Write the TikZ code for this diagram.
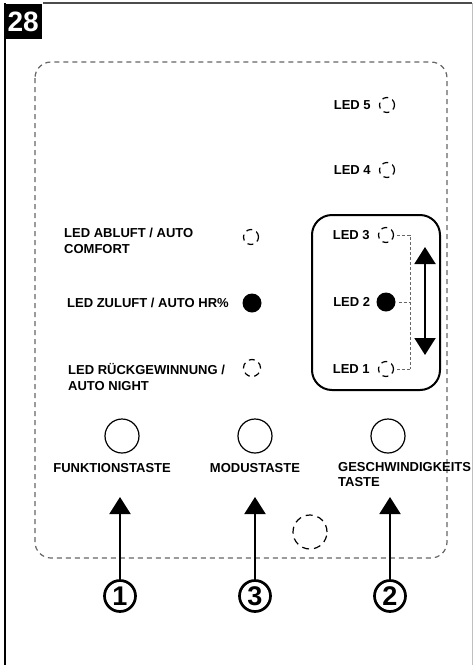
\documentclass[tikz,border=0pt]{standalone}
\usepackage{fontspec}
\setmainfont{Liberation Sans}
\usetikzlibrary{arrows.meta,positioning}

\begin{document}
\begin{tikzpicture}[
    x=1pt, y=-1pt,  % Pixel-Raster, y nach unten
    every node/.style={font=\fontsize{13}{15.5}\selectfont\bfseries, inner sep=0pt},
    panel/.style={draw=black!60, line width=1.2pt, dash pattern=on 5pt off 4pt, rounded corners=16pt},
    ledaus/.style={circle, draw, line width=1.2pt, dash pattern=on 6pt off 4.5pt, minimum size=15pt},
    ledan/.style={circle, fill, minimum size=19pt},
    taste/.style={circle, draw, line width=1.2pt, minimum size=34pt},
    nummer/.style={circle, draw, line width=2.7pt, minimum size=31pt, font=\fontsize{27}{27}\selectfont\bfseries},
    zeiger/.style={line width=2pt, -{Triangle[width=21pt,length=17pt]}},
    verbindung/.style={draw=black!60, line width=0.8pt, dash pattern=on 3pt off 2pt}
]
\useasboundingbox (0,0) rectangle (475,665);
% Rahmen
\draw[black!70, line width=2pt] (43,3) -- (472,3);
\draw[black!25, line width=1pt] (472,3) -- (472,665);
\draw[line width=2pt] (5,3) -- (5,665);
\node[fill=black, text=white, font=\fontsize{28}{28}\selectfont\bfseries,
    minimum width=38pt, minimum height=35pt, anchor=north west] (bild) at (4,4) {28};
% Bedienfeld
\draw[panel] (35,62) rectangle (447,558);
\draw[line width=2pt, rounded corners=20pt] (312,215) rectangle (440,390);

% LEDs rechts
\node[ledaus] (led5) at (387,105) {};
\node[left=8pt of led5] (t5) {LED 5};
\node[ledaus] (led4) at (387,170) {};
\node[left=8pt of led4] (t4) {LED 4};
\node[ledaus] (led3) at (386,235) {};
\node[left=8pt of led3] (t3) {LED 3};
\node[ledan] (led2) at (386,302) {};
\node[left=6pt of led2] (t2) {LED 2};
\node[ledaus] (led1) at (386,369) {};
\node[left=8pt of led1] (t1) {LED 1};

% Verbindung der Stufen
\coordinate (v3) at (410,235);
\coordinate (v2) at (410,302);
\coordinate (v1) at (410,369);
\draw[verbindung, shorten <=3pt] (led3.east) -- (v3) -- (v1);
\draw[verbindung, shorten <=3pt] (led1.east) -- (v1);
\draw[verbindung, shorten <=3pt] (led2.east) -- (v2);
\coordinate (oben) at (425,247);
\coordinate (unten) at (425,355);
\draw[line width=2pt, {Triangle[width=21pt,length=17pt]}-{Triangle[width=21pt,length=17pt]}] (oben) -- (unten);

% LEDs links
\node[ledaus] (ledab) at (251,237) {};
\node[anchor=west, align=left] (tab) at (64,241) {LED ABLUFT / AUTO\\COMFORT};
\node[ledan] (ledzu) at (252,303) {};
\node[anchor=west] (tzu) at (67,303) {LED ZULUFT / AUTO HR\%};
\node[ledaus, minimum size=17pt] (ledrg) at (252,368) {};
\node[anchor=west, align=left] (trg) at (68,377) {LED RÜCKGEWINNUNG /\\AUTO NIGHT};

% Tasten
\node[taste] (funktion) at (122,436) {};
\node[taste] (modus) at (255,436) {};
\node[taste] (geschw) at (388,436) {};
\node[anchor=east] (tfunktion) at (171,468) {FUNKTIONSTASTE};
\node (tmodus) at (255,468) {MODUSTASTE};
\node[anchor=north west, align=left] (tgeschw) at (338,462) {GESCHWINDIGKEITS\\TASTE};
\node[ledaus, minimum size=34pt, dash pattern=on 7pt off 5pt] (sensor) at (310,532) {};

% Nummern mit Pfeilen
\node[nummer] (n1) at (120,596) {1};
\node[nummer] (n3) at (255,596) {3};
\node[nummer] (n2) at (390,596) {2};
\coordinate (p1) at (120,497);
\coordinate (p3) at (255,497);
\coordinate (p2) at (390,497);
\draw[zeiger] (n1) -- (p1);
\draw[zeiger] (n3) -- (p3);
\draw[zeiger] (n2) -- (p2);
\end{tikzpicture}
\end{document}
